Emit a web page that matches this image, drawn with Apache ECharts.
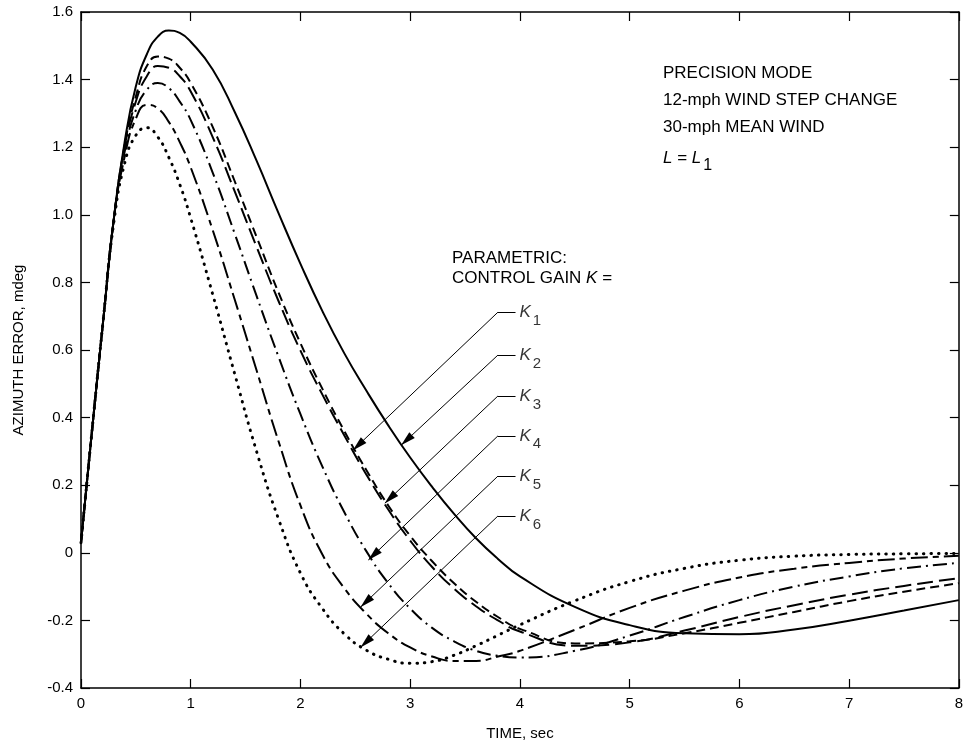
<!DOCTYPE html>
<html>
<head>
<meta charset="utf-8">
<title>Azimuth error vs time</title>
<script src="https://cdn.jsdelivr.net/npm/echarts@6/dist/echarts.min.js"></script>
<style>
html, body { margin: 0; padding: 0; background: #fff; }
#main { width: 966px; height: 749px; }
</style>
</head>
<body>
<div id="main"></div>
<script>
//时间轴 (sec)
var times = [0, 0.1, 0.2, 0.3, 0.4, 0.5, 0.6, 0.7, 0.8, 0.9, 1.0, 1.2, 1.4, 1.6, 1.8, 2.0, 2.2, 2.4, 2.6, 2.8,
    3.0, 3.2, 3.4, 3.6, 3.8, 4.0, 4.5, 5.0, 5.5, 6.0, 6.5, 7.0, 7.5, 8.0];

//各曲线的方位误差 (mdeg)
var solidK = [0.03, 0.36, 0.68, 0.99, 1.22, 1.38, 1.475, 1.527, 1.545, 1.538, 1.512, 1.43, 1.305, 1.16, 1.005, 0.855, 0.715, 0.59, 0.48, 0.377,
    0.282, 0.195, 0.115, 0.043, -0.018, -0.07, -0.16, -0.214, -0.238, -0.241, -0.227, -0.201, -0.171, -0.14];
var shortDashK = [0.03, 0.36, 0.68, 0.99, 1.21, 1.35, 1.44, 1.468, 1.462, 1.435, 1.39, 1.26, 1.1, 0.935, 0.77, 0.62, 0.485, 0.36, 0.245, 0.14,
    0.05, -0.025, -0.09, -0.145, -0.19, -0.225, -0.268, -0.262, -0.238, -0.207, -0.175, -0.143, -0.115, -0.09];
var longDashK = [0.03, 0.36, 0.68, 0.99, 1.205, 1.335, 1.41, 1.44, 1.435, 1.41, 1.365, 1.23, 1.07, 0.905, 0.745, 0.598, 0.468, 0.347, 0.232, 0.128,
    0.036, -0.042, -0.106, -0.158, -0.2, -0.233, -0.275, -0.265, -0.23, -0.19, -0.155, -0.124, -0.098, -0.075];
var dashDotK = [0.03, 0.36, 0.68, 0.99, 1.19, 1.31, 1.37, 1.39, 1.375, 1.335, 1.28, 1.125, 0.945, 0.76, 0.58, 0.41, 0.255, 0.12, 0.005, -0.09,
    -0.165, -0.222, -0.262, -0.29, -0.305, -0.31, -0.29, -0.245, -0.19, -0.14, -0.1, -0.07, -0.046, -0.03];
var longShortK = [0.03, 0.36, 0.68, 0.99, 1.175, 1.285, 1.325, 1.315, 1.275, 1.215, 1.14, 0.955, 0.75, 0.54, 0.33, 0.14, -0.005, -0.105, -0.18, -0.238,
    -0.28, -0.307, -0.32, -0.32, -0.307, -0.29, -0.228, -0.163, -0.112, -0.073, -0.047, -0.03, -0.017, -0.009];
var dottedK = [0.03, 0.36, 0.68, 0.98, 1.155, 1.235, 1.258, 1.23, 1.17, 1.09, 0.99, 0.765, 0.53, 0.3, 0.1, -0.06, -0.165, -0.24, -0.288, -0.315,
    -0.327, -0.322, -0.303, -0.275, -0.244, -0.213, -0.142, -0.085, -0.046, -0.022, -0.01, -0.005, -0.003, -0.002];

//刻度标签
var xTickLabels = ['0', '1', '2', '3', '4', '5', '6', '7', '8'];
var yTickLabels = ['-0.4', '-0.2', '0', '0.2', '0.4', '0.6', '0.8', '1.0', '1.2', '1.4', '1.6'];

//参数标注 K1..K6：标签高度和箭头指向的点
var gainNames = ['1', '2', '3', '4', '5', '6'];
var gainLabelY = [0.712, 0.585, 0.464, 0.346, 0.227, 0.109];
var arrowTipX = [2.48, 2.92, 2.77, 2.62, 2.55, 2.55];
var arrowTipY = [0.304, 0.319, 0.147, -0.021, -0.160, -0.279];
var leaderEndX = 3.96;
var leaderBendX = 3.80;

var FONT = '"Liberation Sans", Arial, sans-serif';

//把时间和数值合成点
function toPoints(ys) {
    var pts = [];
    for (var i = 0; i < times.length; i++) {
        pts.push([times[i], ys[i]]);
    }
    return pts;
}

//曲线系列
function curve(name, ys, lineStyle) {
    lineStyle.color = '#000';
    return {
        name: name,
        type: 'line',
        data: toPoints(ys),
        showSymbol: false,
        smooth: 0.5,
        silent: true,
        lineStyle: lineStyle
    };
}

//引线：一段水平线加一段带箭头的斜线
function getLeaders() {
    var lines = [];
    for (var i = 0; i < gainNames.length; i++) {
        lines.push([
            { coord: [leaderEndX, gainLabelY[i]], symbol: 'none' },
            { coord: [leaderBendX, gainLabelY[i]], symbol: 'none' }
        ]);
        lines.push([
            { coord: [leaderBendX, gainLabelY[i]], symbol: 'none' },
            { coord: [arrowTipX[i], arrowTipY[i]], symbol: 'triangle', symbolSize: [8, 15], symbolOffset: [0, 7] }
        ]);
    }
    return lines;
}

function getGainLabels() {
    var pts = [];
    for (var i = 0; i < gainNames.length; i++) {
        pts.push([leaderEndX, gainLabelY[i], gainNames[i]]);
    }
    return pts;
}

//边框轴（上、右只画刻度）
function frameAxis(pos, isX) {
    var axis = {
        type: 'value',
        position: pos,
        axisLine: { show: true, onZero: false, lineStyle: { color: '#000', width: 1.5 } },
        axisTick: { show: true, inside: true, length: 9, lineStyle: { color: '#000', width: 1.2 } },
        axisLabel: { show: false },
        splitLine: { show: false }
    };
    if (isX) {
        axis.min = 0; axis.max = 8; axis.interval = 1;
    } else {
        axis.min = -0.4; axis.max = 1.6; axis.interval = 0.2;
    }
    return axis;
}

function note(x, y, text, rich) {
    return {
        type: 'text', x: x, y: y, silent: true,
        style: { text: text, fill: '#000', font: '17px ' + FONT, verticalAlign: 'middle', rich: rich }
    };
}

function initChart() {
    var myChart = echarts.init(document.getElementById('main'), null, { renderer: 'canvas' });

    var xBottom = frameAxis('bottom', true);
    xBottom.axisLabel = {
        show: true, color: '#000', fontSize: 15, fontFamily: FONT, margin: 8,
        formatter: function(v) { return xTickLabels[Math.round(v)]; }
    };
    xBottom.name = 'TIME, sec';
    xBottom.nameLocation = 'middle';
    xBottom.nameGap = 38;
    xBottom.nameTextStyle = { color: '#000', fontSize: 15, fontFamily: FONT };

    var yLeft = frameAxis('left', false);
    yLeft.axisLabel = {
        show: true, color: '#000', fontSize: 15, fontFamily: FONT, margin: 8,
        formatter: function(v) { return yTickLabels[Math.round((v + 0.4) / 0.2)]; }
    };
    yLeft.name = 'AZIMUTH ERROR, mdeg';
    yLeft.nameLocation = 'middle';
    yLeft.nameGap = 55;
    yLeft.nameTextStyle = { color: '#000', fontSize: 15, fontFamily: FONT };

    var richL = {
        i: { fontStyle: 'italic', fontSize: 17, fontFamily: FONT },
        n: { fontSize: 17, fontFamily: FONT },
        s: { fontSize: 16, fontFamily: FONT, padding: [16, 0, 0, 2] }
    };

    var option = {
        animation: false,
        backgroundColor: '#fff',
        grid: { left: 81, right: 2, top: 12, bottom: 61 },
        xAxis: [xBottom, frameAxis('top', true)],
        yAxis: [yLeft, frameAxis('right', false)],
        graphic: [
            note(663, 73, 'PRECISION MODE'),
            note(663, 100, '12-mph WIND STEP CHANGE'),
            note(663, 127, '30-mph MEAN WIND'),
            note(663, 158, '{i|L}{n| = }{i|L}{s|1}', richL),
            note(452, 258, 'PARAMETRIC:'),
            note(452, 278, '{n|CONTROL GAIN }{i|K}{n| =}', richL)
        ],
        series: [
            curve('K solid', solidK, { width: 2, type: 'solid' }),
            curve('K short dash', shortDashK, { width: 2, type: [9, 5] }),
            curve('K long dash', longDashK, { width: 2, type: [16, 6] }),
            curve('K dash dot', dashDotK, { width: 2, type: [14, 5, 2, 5] }),
            curve('K long short', longShortK, { width: 2, type: [17, 5, 6, 5] }),
            curve('K dotted', dottedK, { width: 3, type: [0.5, 7], cap: 'round' }),
            {
                name: 'gain labels',
                type: 'scatter',
                data: getGainLabels(),
                symbolSize: 0,
                silent: true,
                label: {
                    show: true,
                    position: 'right',
                    distance: 4,
                    formatter: function(p) { return '{k|K}{s|' + p.data[2] + '}'; },
                    rich: {
                        k: { fontStyle: 'italic', fontSize: 17, fontFamily: FONT, color: '#000' },
                        s: { fontSize: 15, fontFamily: FONT, color: '#000', padding: [17, 0, 0, 2] }
                    }
                },
                markLine: {
                    silent: true,
                    animation: false,
                    symbol: ['none', 'none'],
                    label: { show: false },
                    lineStyle: { color: '#000', width: 1, type: 'solid' },
                    emphasis: { disabled: true },
                    data: getLeaders()
                }
            }
        ]
    };
    myChart.setOption(option);
}

initChart();
</script>
</body>
</html>
